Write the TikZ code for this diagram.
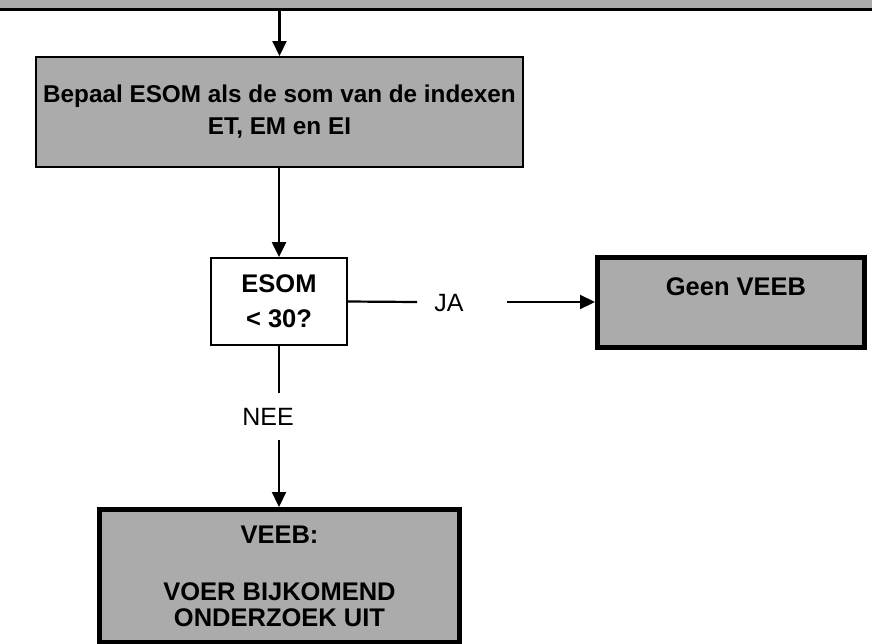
\documentclass[tikz,border=0pt]{standalone}
\usepackage{fontspec}
\setmainfont{Liberation Sans}
\usetikzlibrary{arrows.meta,positioning,calc}

\begin{document}
\begin{tikzpicture}[
    x=1pt, y=-1pt,
    box/.style={rectangle, draw, fill=black!33, line width=2pt, align=center, inner sep=0pt, font=\fontsize{25.5}{32}\selectfont\bfseries},
    decision/.style={rectangle, draw, fill=white, line width=1.8pt, align=center, inner sep=0pt, font=\fontsize{25.5}{35}\selectfont\bfseries},
    endbox/.style={box, line width=5pt},
    lbl/.style={inner sep=0pt, font=\fontsize{25}{28}\selectfont},
    flow/.style={-{Triangle[length=15pt,width=14pt]}, line width=2.2pt},
    link/.style={line width=2.2pt}
]
    \useasboundingbox (0,0) rectangle (872,643);

    \node[box, line width=3pt, minimum width=892pt, minimum height=39.5pt] (top) at (436,-10.25) {};
    \node[box, font=\fontsize{24.3}{32}\selectfont\bfseries, minimum width=487pt, minimum height=110pt] (bepaal) at (279.5,112) {Bepaal ESOM als de som van de indexen\\ET, EM en EI};
    \node[decision, minimum width=136pt, minimum height=87pt] (esom) at (279,301.5) {ESOM\\\textless{} 30?};
    \node[endbox, minimum width=267pt, minimum height=90pt] (geen) at (731,302.5) {};
    \node[lbl, font=\fontsize{25.5}{28}\selectfont\bfseries] (geentxt) at (736,287) {Geen VEEB};
    \node[endbox, font=\fontsize{25.5}{26}\selectfont\bfseries, minimum width=360pt, minimum height=133pt] (veeb) at (279.5,576) {VEEB:\\[31pt]VOER BIJKOMEND\\ONDERZOEK UIT};

    \node[lbl] (ja) at (449,303) {JA};
    \node[lbl] (nee) at (268,417) {NEE};
    \coordinate (jaL) at (417,302);
    \coordinate (jaR) at (507,302);
    \coordinate (neeT) at (279,393);
    \coordinate (neeB) at (279,440);

    \draw[flow] (top.south -| bepaal.north) -- (bepaal.north);
    \draw[flow] (bepaal.south -| esom.north) -- (esom.north);
    \draw[link] (esom.east) -- (jaL);
    \draw[flow] (jaR) -- (jaR -| geen.west);
    \draw[link] (esom.south) -- (neeT);
    \draw[flow] (neeB) -- (neeB |- veeb.north);
\end{tikzpicture}
\end{document}
